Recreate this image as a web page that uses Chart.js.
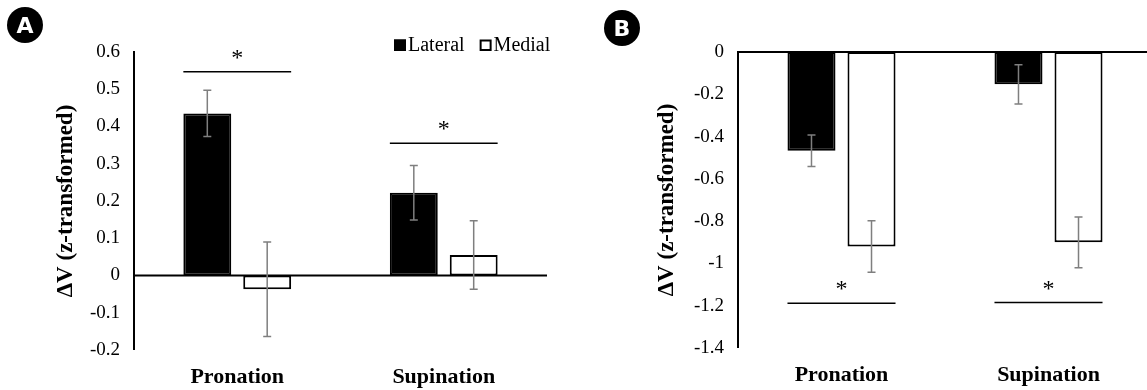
<!DOCTYPE html>
<html>
<head>
<meta charset="utf-8">
<script src="https://cdn.jsdelivr.net/npm/chart.js@4.4.1/dist/chart.umd.min.js"></script>
<style>
  html, body { margin: 0; padding: 0; background: #fff; overflow: hidden; }
  #wrap { position: relative; width: 1147px; height: 390px; overflow: hidden; }
  canvas { position: absolute; top: 0; }
  #chartA { left: 0; }
  #chartB { left: 573px; }
  .tag {
    position: absolute; width: 36px; height: 36px; border-radius: 50%;
    background: #000; color: #fff;
    display: flex; align-items: center; justify-content: center;
    font: bold 22px "DejaVu Sans", "Liberation Sans", sans-serif;
  }
</style>
</head>
<body>
<div id="wrap">
  <canvas id="chartA" width="573" height="390"></canvas>
  <canvas id="chartB" width="582" height="390"></canvas>
  <div class="tag" style="left:7px; top:7px;">A</div>
  <div class="tag" style="left:604px; top:10px;">B</div>
</div>
<script>
// ----------------------
// Data
// ----------------------
const categories = ["Pronation", "Supination"];
const seriesNames = ["Lateral", "Medial"];
const yTitle = "\u0394V (z-transformed)";

// panel A
const lateralA = [0.435, 0.222];
const medialA = [-0.037, 0.055];
const lateralErrA = [0.062, 0.073];
const medialErrA = [0.127, 0.092];
const sigA = [0.547, 0.355];

// panel B
const lateralB = [-0.467, -0.153];
const medialB = [-0.92, -0.90];
const lateralErrB = [0.075, 0.093];
const medialErrB = [0.122, 0.12];
const sigB = [-1.188, -1.185];

const serif = "'Liberation Serif', 'Times New Roman', serif";

// ----------------------
// Plugins: zero line, error bars, significance marks, legend
// ----------------------
const annotate = {
  id: "annotate",
  afterDatasetsDraw(chart, args, opts) {
    const ctx = chart.ctx;
    const y = chart.scales.y;
    const area = chart.chartArea;
    ctx.save();

    // zero line across the plot
    const y0 = y.getPixelForValue(0);
    ctx.strokeStyle = "#000";
    ctx.lineWidth = 2;
    ctx.beginPath();
    ctx.moveTo(area.left, y0); ctx.lineTo(area.right, y0);
    ctx.stroke();

    ctx.strokeStyle = "#7f7f7f";
    ctx.lineWidth = 1.5;
    chart.data.datasets.forEach((ds, di) => {
      chart.getDatasetMeta(di).data.forEach((bar, i) => {
        const v = ds.data[i], e = ds.errors[i];
        const y1 = y.getPixelForValue(v + e), y2 = y.getPixelForValue(v - e);
        ctx.beginPath();
        ctx.moveTo(bar.x, y1); ctx.lineTo(bar.x, y2);
        ctx.moveTo(bar.x - 4, y1); ctx.lineTo(bar.x + 4, y1);
        ctx.moveTo(bar.x - 4, y2); ctx.lineTo(bar.x + 4, y2);
        ctx.stroke();
      });
    });

    ctx.strokeStyle = "#000";
    ctx.fillStyle = "#000";
    ctx.lineWidth = 1.5;
    ctx.font = "24px " + serif;
    ctx.textAlign = "center";
    ctx.textBaseline = "alphabetic";
    (opts.levels || []).forEach((lvl, i) => {
      const a = chart.getDatasetMeta(0).data[i];
      const b = chart.getDatasetMeta(1).data[i];
      const x1 = a.x - a.width / 2, x2 = b.x + b.width / 2;
      const yy = y.getPixelForValue(lvl);
      ctx.beginPath();
      ctx.moveTo(x1, yy); ctx.lineTo(x2, yy);
      ctx.stroke();
      ctx.fillText("*", (x1 + x2) / 2, yy - 7);
    });
    ctx.restore();
  }
};

const boxLegend = {
  id: "boxLegend",
  afterDraw(chart, args, opts) {
    if (!opts.show) return;
    const ctx = chart.ctx;
    ctx.save();
    ctx.font = "20px " + serif;
    ctx.textBaseline = "alphabetic";
    ctx.textAlign = "left";
    let x = opts.x;
    chart.data.datasets.forEach((ds) => {
      ctx.fillStyle = ds.backgroundColor;
      ctx.fillRect(x, opts.y - 11.5, 12, 11.5);
      ctx.strokeStyle = "#000";
      ctx.lineWidth = 2;
      ctx.strokeRect(x + 1, opts.y - 10.5, 10, 9.5);
      ctx.fillStyle = "#000";
      ctx.fillText(ds.label, x + 14, opts.y);
      x += 14 + ctx.measureText(ds.label).width + 15;
    });
    ctx.restore();
  }
};

// ----------------------
// Chart builder
// ----------------------
function makeChart(id, cfg) {
  const ctx = document.getElementById(id).getContext("2d");
  return new Chart(ctx, {
    type: "bar",
    data: {
      labels: categories,
      datasets: [
        {
          label: seriesNames[0],
          data: cfg.lateral,
          errors: cfg.lateralErr,
          backgroundColor: "#000",
          borderColor: "#000",
          borderWidth: 2,
          borderSkipped: false
        },
        {
          label: seriesNames[1],
          data: cfg.medial,
          errors: cfg.medialErr,
          backgroundColor: "#fff",
          borderColor: "#000",
          borderWidth: 2,
          borderSkipped: false
        }
      ]
    },
    options: {
      responsive: false,
      animation: false,
      devicePixelRatio: 1,
      categoryPercentage: 0.58,
      barPercentage: 0.8,
      layout: { padding: cfg.padding },
      plugins: {
        legend: { display: false },
        tooltip: { enabled: false },
        annotate: { levels: cfg.sig },
        boxLegend: cfg.legend
      },
      scales: {
        x: {
          grid: { display: false, drawTicks: false },
          border: { display: false },
          ticks: {
            color: "#000",
            padding: 14,
            font: { family: serif, size: 22, weight: "bold" }
          },
          afterFit(scale) { scale.height = cfg.xHeight; }
        },
        y: {
          min: cfg.min,
          max: cfg.max,
          border: { display: true, color: "#000", width: 2 },
          grid: { drawTicks: false, lineWidth: 0, color: "rgba(0,0,0,0)" },
          ticks: {
            stepSize: cfg.step,
            color: "#000",
            padding: 14,
            font: { family: serif, size: 19 },
            callback: (v) => String(Math.round(v * 10) / 10)
          },
          title: {
            display: true,
            text: yTitle,
            color: "#000",
            padding: { top: cfg.titlePad, bottom: 0 },
            font: { family: serif, size: 23, weight: "bold" }
          },
          afterFit(scale) { scale.width = cfg.yWidth; }
        }
      }
    },
    plugins: [annotate, boxLegend]
  });
}

makeChart("chartA", {
  lateral: lateralA, medial: medialA,
  lateralErr: lateralErrA, medialErr: medialErrA,
  sig: sigA, min: -0.2, max: 0.6, step: 0.1,
  padding: { top: 52, right: 26, bottom: 0, left: 0 },
  xHeight: 40, yWidth: 134, titlePad: 52,
  legend: { show: true, x: 394, y: 51 }
});

makeChart("chartB", {
  lateral: lateralB, medial: medialB,
  lateralErr: lateralErrB, medialErr: medialErrB,
  sig: sigB, min: -1.4, max: 0, step: 0.2,
  padding: { top: 52, right: 3, bottom: 0, left: 0 },
  xHeight: 42, yWidth: 165, titlePad: 80,
  legend: { show: false }
});
</script>
</body>
</html>
